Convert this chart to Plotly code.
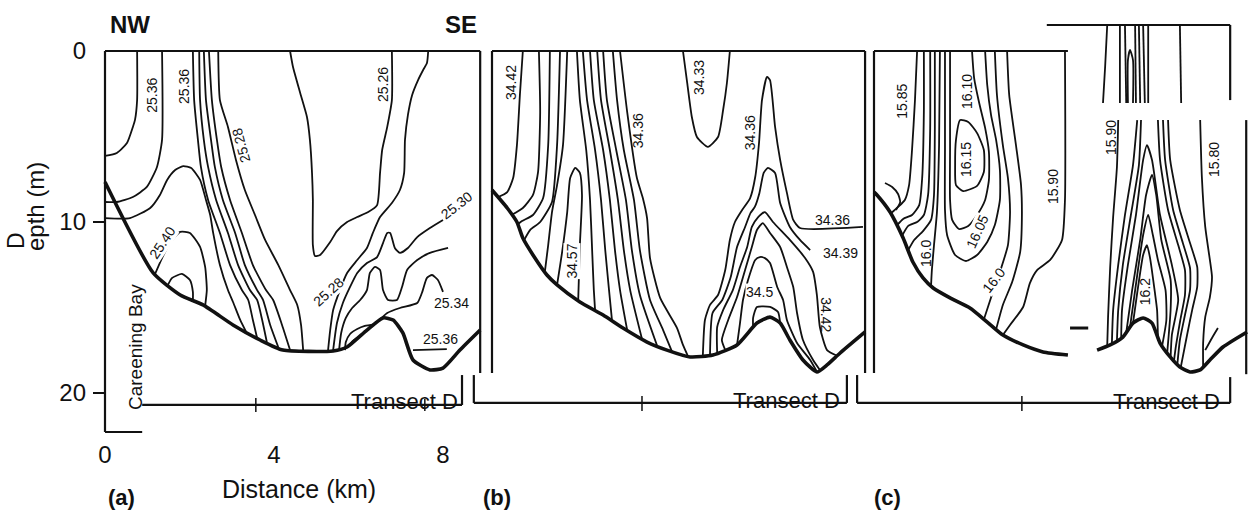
import plotly.graph_objects as go

INK = "#111111"
FONT = "Liberation Sans, Arial, Helvetica, sans-serif"
W, H = 1248, 511

# ---------------- Section (a): sigma-t along Transect D ----------------
a_floor_km = [0.0, 1.14, 1.78, 2.32, 3.03, 3.67, 4.21, 5.40, 5.73, 6.20, 6.58, 6.82, 7.05, 7.29, 7.69, 8.00, 8.40, 8.88]
a_floor_m = [7.66, 12.98, 14.27, 14.85, 16.02, 16.90, 17.49, 17.54, 17.31, 16.32, 15.61, 15.73, 16.49, 18.07, 18.65, 18.54, 17.49, 16.32]

a_iso01 = ([0.76, 0.76, 0.71, 0.66, 0.52, 0.28, 0.0], [0, 2.87, 4.03, 4.44, 5.38, 5.96, 6.14])
a_iso02 = ([1.35, 1.35, 1.23, 0.99, 0.66, 0.28, 0.0], [0, 5.20, 6.78, 7.95, 8.54, 8.83, 8.83])
a_iso03 = ([0, 0.59, 1.07, 1.30, 1.47, 1.66, 1.85, 2.04, 2.25, 2.39, 2.49, 2.56, 2.72, 2.91, 3.03, 3.20, 3.34],
           [9.77, 9.77, 9.18, 8.42, 7.54, 6.96, 6.73, 6.84, 7.54, 8.71, 9.59, 10.64, 12.51, 13.98, 14.68, 15.73, 16.43])
a_iso04 = ([2.08, 2.11, 2.20, 2.27, 2.44, 2.72, 2.96, 3.24, 3.39, 3.50, 3.60],
           [0, 2.87, 5.21, 6.78, 8.71, 10.64, 12.52, 13.98, 14.56, 15.73, 16.78])
a_iso05 = ([2.23, 2.25, 2.34, 2.44, 2.63, 2.91, 3.15, 3.43, 3.60, 3.72, 3.83],
           [0, 2.87, 5.21, 6.78, 8.71, 10.64, 12.52, 13.98, 14.56, 15.73, 17.02])
a_iso06 = ([2.34, 2.39, 2.51, 2.60, 2.79, 3.08, 3.31, 3.60, 3.74, 3.91, 4.10],
           [0, 2.87, 5.21, 6.78, 8.71, 10.64, 12.52, 13.98, 14.56, 16.02, 17.31])
a_iso07 = ([2.46, 2.53, 2.65, 2.75, 2.96, 3.24, 3.50, 3.81, 3.98, 4.19, 4.38],
           [0, 2.87, 5.21, 6.78, 8.71, 10.64, 12.52, 13.98, 14.56, 16.02, 17.49])
a_iso08 = ([2.68, 2.72, 2.91, 3.10, 3.31, 3.55, 3.79, 4.10, 4.38, 4.55, 4.64, 4.69],
           [0, 2.87, 4.44, 6.37, 8.13, 9.59, 11.05, 12.51, 13.98, 14.85, 16.02, 17.49])
a_iso09 = ([1.18, 1.35, 1.54, 1.78, 2.01, 2.25, 2.37, 2.41, 2.37],
           [13.07, 12.11, 11.23, 10.58, 10.64, 11.46, 12.63, 13.98, 14.90])
a_iso10 = ([1.49, 1.59, 1.82, 2.01, 2.08, 2.08], [13.68, 13.27, 13.04, 13.39, 14.09, 14.60])
a_iso11 = ([6.79, 6.79, 6.68, 6.56, 6.51, 6.44, 6.23, 5.97, 5.73, 5.49, 5.33, 5.09, 4.97, 4.92, 4.92, 4.90, 4.85, 4.78, 4.62, 4.45, 4.38],
           [0, 2.87, 4.44, 5.79, 7.13, 9.01, 9.42, 9.71, 10.0, 10.53, 11.17, 11.93, 11.99, 11.35, 8.71, 7.13, 5.20, 3.86, 2.46, 0.94, 0])
a_iso12 = ([7.65, 7.62, 7.53, 7.41, 7.27, 7.17, 7.10, 7.08, 6.98, 6.79, 6.51, 6.34, 6.20, 5.97, 5.73, 5.56, 5.40, 5.33, 5.28],
           [0, 0.70, 1.11, 1.70, 2.57, 3.74, 5.20, 7.13, 8.13, 8.89, 9.71, 10.64, 11.52, 12.22, 12.98, 13.98, 15.15, 16.32, 17.49])
a_iso13 = ([8.00, 7.69, 7.39, 7.17, 6.98, 6.86, 6.75, 6.68, 6.58, 6.44, 6.20, 5.97, 5.80, 5.63, 5.49, 5.40],
           [9.88, 10.35, 10.88, 11.52, 11.81, 11.52, 10.64, 10.64, 11.23, 12.05, 12.40, 12.98, 13.80, 14.74, 15.91, 17.49])
a_iso14 = ([8.12, 7.69, 7.39, 7.15, 7.03, 6.91, 6.70, 6.58, 6.51, 6.39, 6.27, 6.20, 6.04, 5.85, 5.70, 5.59, 5.54],
           [11.52, 11.81, 12.22, 12.81, 13.80, 14.56, 14.56, 13.98, 12.81, 12.63, 12.98, 13.98, 14.56, 15.03, 15.61, 16.49, 17.49])
a_iso15 = ([8.00, 7.88, 7.74, 7.62, 7.50, 7.39, 6.98, 6.68, 6.49], [14.09, 13.39, 13.10, 13.27, 14.15, 14.74, 15.03, 15.32, 15.75])
a_iso16 = ([6.39, 6.15, 5.97, 5.80, 5.70, 5.68], [15.97, 16.08, 16.26, 16.55, 17.02, 17.49])
a_iso17 = ([5.78, 5.85, 5.95, 6.05, 6.12], [17.25, 17.00, 16.80, 16.65, 16.55])
a_iso18 = ([7.29, 8.09], [17.49, 17.43])

a_label_text = ["25.36", "25.36", "25.28", "25.40", "25.26", "25.30", "25.28", "25.34", "25.36"]
a_label_km = [1.12, 1.87, 3.22, 1.35, 6.58, 8.33, 5.28, 8.21, 7.93]
a_label_m = [2.60, 2.10, 5.55, 11.23, 1.99, 9.01, 14.09, 14.74, 16.84]

# ---------------- Section (b): salinity ----------------
b_floor_km = [0.0, 0.36, 0.59, 0.73, 0.97, 1.30, 1.54, 2.08, 2.63, 3.10, 3.67, 4.14, 4.69, 5.23, 5.80, 6.27, 6.58, 6.82, 7.05, 7.36, 7.69, 7.93, 8.24, 8.83]
b_floor_m = [8.13, 9.18, 10.0, 10.94, 11.93, 13.10, 13.68, 14.68, 15.44, 16.20, 17.02, 17.49, 17.89, 17.78, 17.19, 15.91, 15.56, 15.91, 16.90, 18.07, 18.77, 18.36, 17.66, 16.43]

b_iso01 = ([0.73, 0.66, 0.59, 0.50, 0.36, 0.14], [0, 2.57, 5.50, 7.43, 8.25, 8.55])
b_iso02 = ([1.11, 1.14, 1.09, 0.97, 0.73, 0.47], [0, 3.57, 7.08, 8.42, 9.18, 9.58])
b_iso03 = ([1.37, 1.33, 1.21, 0.97, 0.71, 0.62], [0, 5.50, 8.60, 9.59, 9.94, 10.12])
b_iso04 = ([1.61, 1.54, 1.42, 1.14, 0.90, 0.76], [0, 5.50, 8.83, 10.0, 10.47, 11.06])
b_iso05 = ([1.78, 1.68, 1.54, 1.42, 1.33, 1.25], [0, 5.50, 7.84, 9.42, 11.35, 12.93])
b_iso06 = ([1.54, 1.66, 1.78, 1.85, 1.97, 2.08, 2.13, 2.08, 2.04], [13.68, 11.75, 9.42, 7.43, 6.84, 7.13, 8.42, 11.35, 14.59])
b_iso07 = ([2.01, 2.08, 2.23, 2.32, 2.37, 2.41, 2.44], [0, 2.87, 5.79, 8.71, 11.64, 13.98, 15.18])
b_iso08 = ([2.15, 2.25, 2.44, 2.58, 2.68, 2.77, 2.84], [0, 2.87, 5.79, 8.71, 11.64, 13.98, 15.75])
b_iso09 = ([2.32, 2.41, 2.63, 2.79, 2.91, 3.03, 3.20], [0, 2.87, 5.79, 8.71, 11.64, 13.98, 16.33])
b_iso10 = ([2.49, 2.58, 2.79, 2.98, 3.12, 3.27, 3.55], [0, 2.87, 5.79, 8.71, 11.64, 13.98, 16.84])
b_iso11 = ([2.63, 2.72, 2.94, 3.17, 3.31, 3.50, 3.91], [0, 2.87, 5.79, 8.71, 11.64, 14.27, 17.25])
b_iso12 = ([2.86, 2.96, 3.12, 3.36, 3.50, 3.74, 4.05, 4.26], [0, 2.87, 5.79, 8.71, 11.64, 14.56, 16.32, 17.58])
b_iso13 = ([3.03, 3.20, 3.43, 3.57, 3.67, 3.74, 3.98, 4.38, 4.52, 4.64], [0, 3.57, 7.43, 8.60, 9.77, 12.11, 14.44, 16.20, 17.19, 17.86])
b_iso14 = ([4.52, 4.62, 4.73, 4.85, 5.11, 5.35, 5.47, 5.56, 5.63], [0, 1.87, 3.86, 5.03, 5.61, 5.03, 3.45, 1.87, 0])
b_iso15 = ([4.99, 5.04, 5.16, 5.35, 5.52, 5.63, 5.75, 5.92, 6.11, 6.23, 6.32, 6.39, 6.51, 6.58, 6.70, 6.82, 6.98, 7.13, 7.29, 8.78],
           [17.83, 15.73, 14.85, 14.27, 12.81, 11.05, 10.0, 9.30, 8.60, 7.37, 5.38, 2.87, 1.52, 1.70, 4.44, 6.37, 8.30, 9.88, 10.35, 10.29])
b_iso16 = ([5.16, 5.22, 5.45, 5.65, 5.80, 5.99, 6.12, 6.22, 6.33, 6.43, 6.53, 6.70, 6.82, 7.05, 7.29, 7.53],
           [17.79, 15.32, 14.56, 13.22, 11.46, 10.29, 9.47, 9.12, 8.30, 7.13, 6.84, 7.13, 8.89, 10.29, 11.05, 11.64])
b_iso17 = ([5.33, 5.33, 5.47, 5.70, 5.87, 6.04, 6.15, 6.30, 6.46, 6.65, 7.05, 7.41, 7.60, 7.69, 7.76, 7.93, 8.17],
           [17.68, 16.14, 15.15, 13.98, 12.63, 11.46, 10.29, 9.71, 9.42, 10.0, 11.05, 12.11, 12.92, 14.27, 16.14, 17.49, 17.82])
b_iso18 = ([5.52, 5.44, 5.59, 5.80, 5.99, 6.15, 6.27, 6.41, 6.58, 6.82, 6.98, 7.13, 7.22, 7.36, 7.60, 7.76],
           [17.48, 16.90, 15.73, 14.39, 12.81, 11.46, 10.47, 10.06, 10.64, 11.46, 12.63, 13.80, 15.32, 16.90, 18.07, 18.65])
b_iso19 = ([5.80, 5.87, 5.94, 6.06, 6.23, 6.34, 6.46, 6.58, 6.75, 6.89, 6.98, 7.22, 7.53, 7.69],
           [17.19, 15.91, 14.56, 13.39, 12.22, 12.05, 12.11, 12.40, 13.80, 14.56, 15.73, 17.08, 18.07, 18.75])
b_iso20 = ([6.18, 6.18, 6.27, 6.58, 6.77, 6.82], [16.17, 15.61, 14.97, 14.97, 15.26, 15.91])

b_label_text = ["34.42", "34.57", "34.36", "34.33", "34.36", "34.36", "34.39", "34.5", "34.42"]
b_label_km = [0.45, 1.90, 3.46, 4.90, 6.11, 8.05, 8.24, 6.34, 7.90]
b_label_m = [1.87, 12.30, 4.68, 1.58, 4.80, 9.88, 11.81, 14.09, 15.44]

# ---------------- Section (c): temperature ----------------
c_floor_left_km = [0.0, 0.07, 0.38, 0.69, 0.92, 1.16, 1.40, 1.80, 2.27, 2.68, 3.05, 3.53, 4.00, 4.59]
c_floor_left_m = [8.25, 8.42, 9.42, 10.94, 12.34, 13.27, 13.86, 14.44, 15.03, 15.85, 16.61, 17.19, 17.60, 17.78]
c_floor_right_km = [5.28, 5.59, 5.89, 6.13, 6.37, 6.58, 6.77, 7.01, 7.24, 7.48, 7.72, 7.95, 8.26, 8.83]
c_floor_right_m = [17.49, 17.19, 16.73, 15.91, 15.61, 15.91, 17.08, 17.89, 18.48, 18.77, 18.65, 18.07, 17.31, 16.43]

c_iso01 = ([1.02, 0.97, 0.90, 0.83, 0.73, 0.57, 0.40], [0, 2.87, 5.79, 7.84, 8.71, 9.12, 9.50])
c_iso02 = ([0.26, 0.43, 0.57, 0.62, 0.52], [7.72, 7.95, 8.36, 8.83, 9.30])
c_iso03 = ([1.18, 1.18, 1.14, 1.07, 0.90, 0.69, 0.54], [0, 3.57, 7.43, 9.01, 9.59, 9.82, 10.20])
c_iso04 = ([1.33, 1.33, 1.28, 1.18, 1.02, 0.81, 0.66], [0, 4.50, 8.42, 9.59, 10.0, 10.23, 10.83])
c_iso05 = ([1.44, 1.44, 1.42, 1.35, 1.16, 0.95, 0.81], [0, 4.50, 8.42, 9.88, 10.53, 11.05, 11.64])
c_iso06 = ([1.56, 1.54, 1.49, 1.42, 1.37, 1.35], [0, 5.50, 9.42, 11.35, 12.81, 13.74])
c_iso07 = ([1.68, 1.68, 1.68, 1.73, 1.92, 2.18, 2.44, 2.68, 2.86, 2.98, 2.98, 2.89, 2.77, 2.68, 2.63],
           [0, 5.79, 9.30, 10.76, 11.93, 12.28, 11.93, 11.17, 10.18, 8.71, 6.96, 5.20, 3.74, 1.99, 0])
c_iso08 = ([1.80, 1.80, 1.80, 1.85, 2.01, 2.23, 2.44, 2.63, 2.72, 2.72, 2.63, 2.49, 2.37, 2.32],
           [0, 5.79, 8.71, 9.88, 10.41, 10.23, 9.59, 8.71, 7.54, 5.91, 4.50, 3.04, 1.58, 0])
c_iso09 = ([2.04, 2.23, 2.44, 2.60, 2.60, 2.44, 2.11, 1.94, 1.92, 1.94, 2.04],
           [4.04, 4.15, 4.80, 5.79, 7.08, 7.89, 8.19, 7.84, 6.67, 5.20, 4.04])
c_iso10 = ([2.86, 2.91, 3.05, 3.17, 3.22, 3.17, 2.98, 2.79, 2.60], [0, 2.57, 5.50, 7.43, 9.42, 11.35, 12.92, 14.27, 15.70])
c_iso11 = ([3.15, 3.20, 3.36, 3.48, 3.50, 3.46, 3.27, 3.05, 2.89], [0, 2.57, 5.50, 7.84, 9.77, 11.75, 13.51, 14.85, 16.28])
c_iso12 = ([4.52, 4.52, 4.45, 4.17, 3.86, 3.69, 3.53, 3.22, 3.05], [0, 8.71, 11.05, 12.22, 12.81, 13.57, 14.97, 16.02, 16.61])
# near-surface strip of the eastern end
c_iso13 = ([5.52, 5.47, 5.42], [-1.52, 0.94, 3.04])
c_iso14 = ([5.82, 5.82], [-1.52, 3.04])
c_iso15 = ([5.94, 5.97], [-1.52, 3.04])
c_iso16 = ([6.01, 6.01, 6.06, 6.13, 6.13], [3.04, 0.53, -0.06, 0.53, 3.04])
c_iso17 = ([6.18, 6.20], [-1.52, 3.04])
c_iso18 = ([6.27, 6.30], [-1.52, 3.04])
c_iso19 = ([6.37, 6.41], [-1.52, 3.04])
c_iso20 = ([6.49, 6.49], [-1.52, 3.04])
c_iso21 = ([7.24, 7.27], [-1.52, 3.04])
# eastern end below the strip
c_iso22 = ([5.78, 5.75, 5.66, 5.59, 5.54, 5.52], [4.04, 6.78, 9.71, 12.63, 15.56, 17.25])
c_iso23 = ([6.23, 6.13, 5.94, 5.78, 5.66, 5.63], [4.04, 6.67, 9.59, 12.51, 15.15, 17.15])
c_iso24 = ([6.32, 6.27, 6.08, 5.89, 5.78, 5.75], [4.04, 6.67, 9.59, 12.51, 15.15, 16.94])
c_iso25 = ([5.85, 5.87, 6.01, 6.20, 6.37, 6.46, 6.58, 6.77, 7.05, 7.20, 7.05, 7.02],
           [16.85, 15.15, 12.51, 9.59, 6.37, 5.50, 6.37, 9.59, 12.51, 14.56, 16.61, 17.92])
c_iso26 = ([5.97, 6.11, 6.30, 6.44, 6.58, 6.68, 6.80, 7.02, 7.02, 6.94],
           [16.47, 13.98, 11.05, 8.42, 7.25, 8.42, 11.05, 13.39, 15.15, 17.64])
c_iso27 = ([6.06, 6.23, 6.37, 6.49, 6.60, 6.72, 6.90, 6.92, 6.82], [16.15, 13.10, 10.76, 9.59, 10.76, 12.22, 13.98, 15.73, 17.24])
c_iso28 = ([6.13, 6.23, 6.37, 6.46, 6.53, 6.65, 6.70, 6.72], [15.91, 14.15, 11.93, 11.35, 12.05, 14.15, 15.15, 16.70])
c_iso29 = ([6.72, 6.77, 6.96, 7.20, 7.36, 7.36, 7.25, 7.15, 7.10], [4.04, 6.37, 9.30, 11.35, 12.81, 14.27, 15.73, 17.19, 18.12])
c_iso30 = ([6.84, 6.89, 7.08, 7.31, 7.48, 7.48, 7.36, 7.24, 7.18], [4.04, 6.37, 9.30, 11.23, 12.69, 13.98, 15.44, 16.90, 18.32])
c_iso31 = ([6.96, 7.01, 7.24, 7.48, 7.65, 7.65, 7.53, 7.41, 7.26], [4.04, 6.37, 9.30, 11.23, 12.63, 13.80, 15.15, 16.61, 18.50])
c_iso32 = ([7.72, 7.76, 7.84, 7.95, 8.00, 7.95, 7.84, 7.79, 7.79], [4.04, 7.37, 10.29, 12.22, 13.22, 14.39, 15.56, 17.08, 18.47])
c_iso33 = ([8.14, 8.00, 7.84], [16.20, 16.78, 17.49])

c_label_text = ["15.85", "16.10", "16.15", "16.05", "16.0", "16.0", "15.90", "15.90", "15.80", "16.2"]
c_label_km = [0.66, 2.20, 2.18, 2.44, 1.23, 2.84, 4.24, 5.61, 8.05, 6.42]
c_label_m = [2.92, 2.34, 6.37, 10.58, 11.81, 13.39, 7.95, 5.09, 6.37, 14.09]

# Axis ticks
depth_ticks = [0, 10, 20]
distance_ticks = [0, 4, 8]

# ---------------- drawing ----------------
fig = go.Figure()


def draw_lines(lines, axis, width=1.8):
    for km, m in lines:
        fig.add_trace(go.Scatter(
            x=km, y=m, xaxis=axis, yaxis="y", mode="lines",
            line=dict(color=INK, width=width, shape="spline", smoothing=0.55),
            hoverinfo="skip", showlegend=False))


def rule(axis, x0, y0, x1, y1, width=2.2):
    fig.add_shape(type="line", xref=axis, yref="y", x0=x0, y0=y0, x1=x1, y1=y1,
                  line=dict(color=INK, width=width))


def tags(axis, texts, kms, ms, angles, cut):
    # labels sitting on an isoline get a white backing so the line appears broken
    for t, k, d, ang, c in zip(texts, kms, ms, angles, cut):
        fig.add_annotation(xref=axis, yref="y", x=k, y=d, text=t, textangle=ang,
                           showarrow=False, borderpad=0,
                           bgcolor="white" if c else "rgba(0,0,0,0)",
                           font=dict(family=FONT, size=14, color=INK))


def note(text, px, py, size, bold=False, angle=0):
    fig.add_annotation(xref="paper", yref="paper", x=px / W, y=1 - py / H,
                       text=f"<b>{text}</b>" if bold else text, textangle=angle,
                       showarrow=False, xanchor="center", yanchor="middle",
                       font=dict(family=FONT, size=size, color=INK))


# (a)
draw_lines([a_iso01, a_iso02, a_iso03, a_iso04, a_iso05, a_iso06, a_iso07, a_iso08, a_iso09,
            a_iso10, a_iso11, a_iso12, a_iso13, a_iso14, a_iso15, a_iso16, a_iso17, a_iso18], "x")
draw_lines([(a_floor_km, a_floor_m)], "x", width=3.6)
tags("x", a_label_text, a_label_km, a_label_m, [-90, -90, -105, -56, -90, -38, -42, 0, 0],
     [False, False, False, True, False, False, True, False, False])

# (b)
draw_lines([b_iso01, b_iso02, b_iso03, b_iso04, b_iso05, b_iso06, b_iso07, b_iso08, b_iso09, b_iso10,
            b_iso11, b_iso12, b_iso13, b_iso14, b_iso15, b_iso16, b_iso17, b_iso18, b_iso19, b_iso20], "x2")
draw_lines([(b_floor_km, b_floor_m)], "x2", width=3.6)
tags("x2", b_label_text, b_label_km, b_label_m, [-90, -90, -90, -90, -90, 0, 0, 0, 90],
     [False, True, False, False, False, False, False, True, False])

# (c)
draw_lines([c_iso01, c_iso02, c_iso03, c_iso04, c_iso05, c_iso06, c_iso07, c_iso08, c_iso09, c_iso10,
            c_iso11, c_iso12, c_iso13, c_iso14, c_iso15, c_iso16, c_iso17, c_iso18, c_iso19, c_iso20,
            c_iso21, c_iso22, c_iso23, c_iso24, c_iso25, c_iso26, c_iso27, c_iso28, c_iso29, c_iso30,
            c_iso31, c_iso32, c_iso33], "x3")
draw_lines([(c_floor_left_km, c_floor_left_m), (c_floor_right_km, c_floor_right_m)], "x3", width=3.6)
tags("x3", c_label_text, c_label_km, c_label_m, [-90, -90, -90, -66, -90, -52, -90, -90, -90, -90],
     [False, False, False, True, False, True, False, False, False, False])

# section frames and transect brackets
rule("x", 0, 0, 8.88, 0)
rule("x", 0, 0, 0, 22.28)
rule("x", 0, 22.28, 0.88, 22.28)
rule("x", 8.88, 0, 8.88, 18.83)
rule("x", 0.88, 20.70, 8.45, 20.70)
rule("x", 8.45, 18.95, 8.45, 20.70)
rule("x", 3.57, 20.29, 3.57, 21.11, 1.5)
rule("x", 7.57, 20.35, 7.57, 21.05, 1.5)

rule("x2", 0, 0, 0, 18.83)
rule("x2", 0, 0, 8.83, 0)
rule("x2", 8.83, 0, 8.83, 18.83)
rule("x2", -0.43, 18.95, -0.43, 20.58)
rule("x2", -0.43, 20.58, 8.40, 20.58)
rule("x2", 8.40, 18.95, 8.40, 20.58)
rule("x2", 3.55, 20.17, 3.55, 21.05, 1.5)

rule("x3", 0, 0, 0, 18.83)
rule("x3", 0, 0, 4.59, 0)
rule("x3", -0.40, 18.95, -0.40, 20.58)
rule("x3", -0.40, 20.58, 8.43, 20.58)
rule("x3", 8.43, 19.07, 8.43, 20.58)
rule("x3", 3.50, 20.17, 3.50, 21.05, 1.5)
rule("x3", 4.09, -1.52, 8.43, -1.52)
rule("x3", 8.43, -1.52, 8.43, 2.87)
rule("x3", 8.81, 4.04, 8.81, 18.90)
rule("x3", 4.64, 16.20, 5.07, 16.20, 3.0)

# titles and captions
note("NW", 130, 24, 24, bold=True)
note("SE", 461, 24, 24, bold=True)
note("(a)", 121, 497, 22, bold=True)
note("(b)", 497, 497, 22, bold=True)
note("(c)", 887, 497, 22, bold=True)
note("Distance (km)", 299, 489, 25)
note("Careening Bay", 135, 347, 19, angle=-90)
note("Transect D", 404, 401, 22)
note("Transect D", 786, 400, 22)
note("Transect D", 1166, 401, 22)
note("D", 16, 241, 23, angle=-90)
note("epth (m)", 35, 207, 24, angle=-90)

fig.update_layout(
    width=W, height=H, margin=dict(l=0, r=0, t=0, b=0),
    paper_bgcolor="white", plot_bgcolor="white", showlegend=False,
    xaxis=dict(domain=[0, 1], range=[-105 / 42.25, (W - 105) / 42.25], anchor="free", position=1 - 438 / H,
               tickmode="array", tickvals=distance_ticks, ticktext=[str(v) for v in distance_ticks],
               ticks="", showline=False, showgrid=False, zeroline=False,
               tickfont=dict(family=FONT, size=24, color=INK)),
    xaxis2=dict(overlaying="x", anchor="y", range=[-492 / 42.25, (W - 492) / 42.25], visible=False),
    xaxis3=dict(overlaying="x", anchor="y", range=[-874 / 42.25, (W - 874) / 42.25], visible=False),
    yaxis=dict(domain=[0, 1], range=[(H - 51) / 17.1, -51 / 17.1], anchor="free", position=105 / W,
               tickmode="array", tickvals=depth_ticks, ticks="", ticklabelstandoff=19,
               showline=False, showgrid=False, zeroline=False,
               tickfont=dict(family=FONT, size=24, color=INK),
               minor=dict(tickmode="array", tickvals=[10, 20], ticks="outside", ticklen=12,
                          tickwidth=2, tickcolor=INK, showgrid=False)),
)

fig.write_html("out.html")
